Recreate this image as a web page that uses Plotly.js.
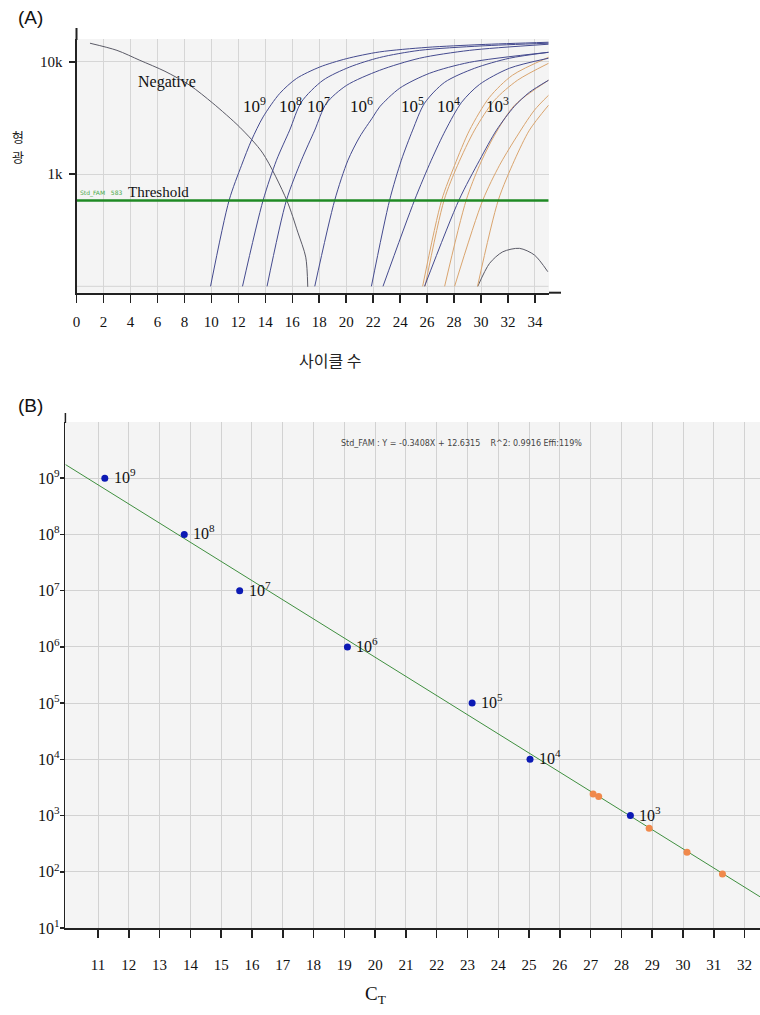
<!DOCTYPE html>
<html><head><meta charset="utf-8">
<script src="https://cdn.plot.ly/plotly-3.0.1.min.js"></script>
<style>html,body{margin:0;padding:0;background:#fff}#chart{width:760px;height:1015px}</style>
</head><body><div id="chart"></div>
<script>
// ---------- Panel A: amplification curves ----------
const neg_cycle = [1.0, 3.0, 4.7, 6.56, 8.41, 10.11, 12.11, 13.81, 15.59, 16.41, 17.0, 17.15];
const neg_fluor = [14700, 12700, 10350, 8260, 6190, 4290, 2620, 1540, 586, 304, 182, 99];

const s1e9_cycle = [9.94, 11.32, 12.24, 12.98, 13.84, 15.07, 16.31, 18.04, 20.01, 22.48, 26, 30, 35];
const s1e9_fluor = [100, 586, 1200, 2010, 3240, 5240, 7120, 9020, 10700, 12300, 13500, 14300, 15000];
const s1e8_cycle = [12.31, 13.84, 14.83, 15.81, 16.68, 18.28, 20.26, 22.48, 25.44, 30, 35];
const s1e8_fluor = [100, 586, 1330, 2470, 4400, 6870, 9020, 10960, 12700, 13900, 14700];
const s1e7_cycle = [14.13, 15.57, 16.68, 17.67, 18.53, 20.01, 22.48, 25.44, 29.15, 35];
const s1e7_fluor = [100, 586, 1330, 2470, 4270, 6170, 8430, 10800, 12700, 14400];
const s1e6_cycle = [17.67, 19.15, 20.13, 21.0, 21.99, 22.48, 23.97, 26.19, 29.15, 35];
const s1e6_fluor = [100, 586, 1330, 2150, 3240, 3980, 5840, 7940, 9930, 12200];
const s1e5_cycle = [21.87, 23.22, 24.09, 24.93, 25.81, 27.3, 29.52, 32.1, 35];
const s1e5_fluor = [100, 586, 1330, 2470, 4290, 6590, 8790, 10800, 12200];
const s1e4_cycle = [22.73, 25.07, 26.31, 27.37, 28.56, 29.89, 32.1, 35];
const s1e4_fluor = [100, 586, 1330, 2470, 4370, 6310, 8790, 10800];
const s1e3_cycle = [25.81, 28.36, 29.89, 31.15, 32.48, 33.59, 35];
const s1e3_fluor = [100, 586, 1330, 2470, 4030, 5370, 6870];

const u1_cycle = [25.67, 27.08, 28.04, 29.15, 30.63, 32.33, 35];
const u1_fluor = [100, 586, 1200, 2470, 4850, 7620, 11000];
const u2_cycle = [25.85, 27.26, 28.26, 29.52, 31.0, 32.7, 35];
const u2_fluor = [100, 586, 1200, 2470, 4560, 6870, 9730];
const u3_cycle = [27.3, 28.9, 29.89, 31.0, 32.48, 35];
const u3_fluor = [100, 586, 1200, 2220, 4110, 6870];
const u4_cycle = [28.04, 30.13, 31.37, 32.48, 33.96, 35];
const u4_fluor = [100, 586, 1200, 2010, 3720, 5040];
const u5_cycle = [29.74, 31.28, 32.48, 33.59, 35];
const u5_fluor = [100, 586, 1330, 2470, 4110];

const bump_cycle = [29.76, 30.63, 31.61, 32.85, 33.96, 34.95];
const bump_fluor = [100, 160, 203, 218, 190, 135];

const threshold_value = 583;
const threshold_span = [0, 35];
const curve_labels = ["10<sup>9</sup>", "10<sup>8</sup>", "10<sup>7</sup>", "10<sup>6</sup>", "10<sup>5</sup>", "10<sup>4</sup>", "10<sup>3</sup>"];
const curve_label_cycle = [13.2, 15.9, 17.95, 21.1, 24.9, 27.6, 31.2];

// ---------- Panel B: standard curve ----------
const std_ct = [11.22, 13.8, 15.6, 19.1, 23.15, 25.03, 28.29];
const std_copies = [1e9, 1e8, 1e7, 1e6, 1e5, 1e4, 1e3];
const std_labels = ["10<sup>9</sup>", "10<sup>8</sup>", "10<sup>7</sup>", "10<sup>6</sup>", "10<sup>5</sup>", "10<sup>4</sup>", "10<sup>3</sup>"];
const unk_ct = [27.08, 27.26, 28.9, 30.13, 31.28];
const unk_copies = [2410, 2190, 597, 222, 91];
const fit_slope = -0.3408, fit_intercept = 12.6315;
const fit_ct = [9.94, 32.6];
const b_xticks = [11,12,13,14,15,16,17,18,19,20,21,22,23,24,25,26,27,28,29,30,31,32];
const b_yticks = [1e1,1e2,1e3,1e4,1e5,1e6,1e7,1e8,1e9];
const b_yticktext = ["10<sup>1</sup>","10<sup>2</sup>","10<sup>3</sup>","10<sup>4</sup>","10<sup>5</sup>","10<sup>6</sup>","10<sup>7</sup>","10<sup>8</sup>","10<sup>9</sup>"];

const W = 760, H = 1015;
const px = x => x / W, py = y => 1 - y / H;
const SERIF = "Liberation Serif, Times New Roman, serif";
const BLUE = "#444a8e", ORANGE = "#d9a46e";

function line(x, y, color, w, xa, ya) {
  return {x, y, mode: "lines", type: "scatter", xaxis: xa, yaxis: ya, hoverinfo: "skip",
          line: {color, width: w, shape: "spline", smoothing: 0.8}};
}
const traces = [
  line(neg_cycle, neg_fluor, "#5a5a66", 1, "x", "y"),
  line(bump_cycle, bump_fluor, "#5a5a66", 1, "x", "y"),
  line(u1_cycle, u1_fluor, ORANGE, 1, "x", "y"),
  line(u2_cycle, u2_fluor, ORANGE, 1, "x", "y"),
  line(u3_cycle, u3_fluor, ORANGE, 1, "x", "y"),
  line(u4_cycle, u4_fluor, ORANGE, 1, "x", "y"),
  line(u5_cycle, u5_fluor, ORANGE, 1, "x", "y"),
  line(s1e9_cycle, s1e9_fluor, BLUE, 1, "x", "y"),
  line(s1e8_cycle, s1e8_fluor, BLUE, 1, "x", "y"),
  line(s1e7_cycle, s1e7_fluor, BLUE, 1, "x", "y"),
  line(s1e6_cycle, s1e6_fluor, BLUE, 1, "x", "y"),
  line(s1e5_cycle, s1e5_fluor, BLUE, 1, "x", "y"),
  line(s1e4_cycle, s1e4_fluor, BLUE, 1, "x", "y"),
  line(s1e3_cycle, s1e3_fluor, BLUE, 1, "x", "y"),
  {x: threshold_span, y: [threshold_value, threshold_value], mode: "lines", xaxis: "x", yaxis: "y",
   hoverinfo: "skip", line: {color: "#1f8a24", width: 2.5}},
  {x: fit_ct, y: fit_ct.map(c => Math.pow(10, fit_intercept + fit_slope * c)), mode: "lines",
   xaxis: "x2", yaxis: "y2", hoverinfo: "skip", line: {color: "#3f8f3f", width: 1}},
  {x: std_ct, y: std_copies, mode: "markers", xaxis: "x2", yaxis: "y2", hoverinfo: "skip",
   marker: {color: "#0c1ab4", size: 7}},
  {x: unk_ct, y: unk_copies, mode: "markers", xaxis: "x2", yaxis: "y2", hoverinfo: "skip",
   marker: {color: "#f0894c", size: 7}}
];

function paperText(x, y, text, font) {
  return {xref: "paper", yref: "paper", x: px(x), y: py(y), xanchor: "center", yanchor: "middle",
          text, showarrow: false, font};
}
const annotations = [
  paperText(30, 18, "(A)", {family: "Liberation Sans, Arial", size: 19, color: "#111"}),
  paperText(30, 405, "(B)", {family: "Liberation Sans, Arial", size: 19, color: "#111"}),
  paperText(18, 136, "형", {family: "Noto Sans CJK KR", size: 13, color: "#222"}),
  paperText(18, 156, "광", {family: "Noto Sans CJK KR", size: 13, color: "#222"}),
  paperText(330, 360, "사이클 수", {family: "Noto Sans CJK KR", size: 16, color: "#222"}),
  paperText(461, 444, "Std_FAM : Y = -0.3408X + 12.6315\u00a0\u00a0\u00a0\u00a0R^2: 0.9916 Effi:119%",
            {family: "DejaVu Sans", size: 8, color: "#444"}),
  paperText(375, 995, "C<sub>T</sub>", {family: SERIF, size: 19, color: "#111"}),
  {xref: "x", yref: "y", x: 6.68, y: 3.822, xanchor: "center", yanchor: "middle", text: "Negative", showarrow: false,
   font: {family: SERIF, size: 16, color: "#111"}},
  {xref: "x", yref: "y", x: 6.11, y: 2.842, xanchor: "center", yanchor: "middle", text: "Threshold", showarrow: false,
   font: {family: SERIF, size: 15, color: "#111"}},
  {xref: "x", yref: "y", x: 0.1, y: 2.83, xanchor: "left", yanchor: "middle", text: "Std_FAM\u00a0\u00a0\u00a0583", showarrow: false,
   font: {family: "DejaVu Sans", size: 6, color: "#4caa4c"}}
];
curve_labels.forEach((t, i) => annotations.push({xref: "x", yref: "y", x: curve_label_cycle[i], y: 3.62,
  xanchor: "center", yanchor: "middle", text: t, showarrow: false, font: {family: SERIF, size: 17, color: "#111"}}));
std_labels.forEach((t, i) => annotations.push({xref: "x2", yref: "y2", x: std_ct[i], y: Math.log10(std_copies[i]),
  text: t, xanchor: "left", yanchor: "middle", xshift: 7, yshift: 2, showarrow: false,
  font: {family: SERIF, size: 16, color: "#111"}}));

const shapes = [
  {type: "line", xref: "paper", yref: "paper", x0: px(76.5), x1: px(76.5), y0: py(28), y1: py(40), line: {color: "#222", width: 2}},
  {type: "line", xref: "paper", yref: "paper", x0: px(549), x1: px(561), y0: py(292.7), y1: py(292.7), line: {color: "#222", width: 2}},
  {type: "line", xref: "x", yref: "y", x0: 0, x1: 35, y0: 100, y1: 100, line: {color: "#d4d4d4", width: 1}, layer: "below"},
  {type: "line", xref: "paper", yref: "paper", x0: px(65.4), x1: px(65.4), y0: py(413), y1: py(423), line: {color: "#222", width: 1.5}}
];

const layout = {
  width: W, height: H, margin: {l: 0, r: 0, t: 0, b: 0}, paper_bgcolor: "#fff",
  plot_bgcolor: "#f4f4f4", showlegend: false, hovermode: false,
  xaxis: {domain: [px(76.5), px(549)], anchor: "y", range: [0, 35.04], tickmode: "linear", tick0: 0, dtick: 2,
          showgrid: true, gridcolor: "#d6d6d6", gridwidth: 1, zeroline: false, showline: true, linecolor: "#222", linewidth: 2,
          ticks: "outside", ticklen: 8, tickcolor: "#222", tickwidth: 1.5, ticklabelstandoff: 6,
          tickfont: {family: SERIF, size: 15, color: "#111"}},
  yaxis: {domain: [py(292.7), py(39)], anchor: "x", type: "log", range: [1.943, 4.205],
          tickvals: [1000, 10000], ticktext: ["1k", "10k"], showgrid: true, gridcolor: "#d6d6d6",
          zeroline: false, showline: true, linecolor: "#222", linewidth: 2, ticks: "outside", ticklen: 6,
          tickcolor: "#222", tickwidth: 1.5, ticklabelstandoff: 3, tickfont: {family: SERIF, size: 15, color: "#111"}},
  xaxis2: {domain: [px(65.4), 1], anchor: "y2", range: [9.94, 32.5], tickvals: b_xticks,
           showgrid: true, gridcolor: "#d2d2d2", zeroline: false, showline: true, linecolor: "#222", linewidth: 1.5,
           ticks: "outside", ticklen: 8, tickcolor: "#222", tickwidth: 1.5, ticklabelstandoff: 14,
           tickfont: {family: SERIF, size: 15, color: "#111"}},
  yaxis2: {domain: [py(928), py(422)], anchor: "x2", type: "log", range: [1, 10],
           tickvals: b_yticks, ticktext: b_yticktext, showgrid: true, gridcolor: "#d2d2d2",
           zeroline: false, showline: true, linecolor: "#222", linewidth: 1.5, ticks: "outside", ticklen: 4,
           tickcolor: "#222", tickwidth: 1.5, ticklabelstandoff: -3, tickfont: {family: SERIF, size: 16, color: "#111"}},
  annotations, shapes
};
Plotly.newPlot("chart", traces, layout, {staticPlot: true, displayModeBar: false});
</script></body></html>
